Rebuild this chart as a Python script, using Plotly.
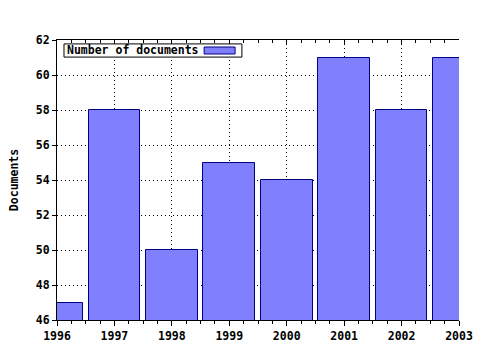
import plotly.graph_objects as go

years = [1996, 1997, 1998, 1999, 2000, 2001, 2002, 2003]
documents = [47, 58, 50, 55, 54, 61, 58, 61]
series_name = "Number of documents"
y_ticks = [46, 48, 50, 52, 54, 56, 58, 60, 62]

FONT = "DejaVu Sans Mono"
fs = 11.5

fig = go.Figure()
fig.add_trace(go.Bar(
    x=years, y=documents, width=0.9, name=series_name,
    marker=dict(color="#8080ff", line=dict(color="#000080", width=1)),
    showlegend=False,
))
# invisible trace to anchor top axis
fig.add_trace(go.Scatter(x=[years[0]], y=[documents[0]], xaxis="x2",
                         mode="markers", marker=dict(opacity=0),
                         showlegend=False, hoverinfo="skip"))

fig.update_layout(
    width=480, height=350,
    margin=dict(l=57, r=21, t=40, b=30),
    paper_bgcolor="white", plot_bgcolor="white",
    font=dict(family=FONT, size=fs, color="black"),
    bargap=0,
    xaxis=dict(
        range=[1996, 2003], tickmode="array", tickvals=years,
        ticktext=[f"<b>{y}</b>" for y in years], automargin=False,
        showline=True, linecolor="black", linewidth=1,
        ticks="outside", ticklen=5, tickcolor="black",
        showgrid=True, gridcolor="black", griddash="1px,3px", gridwidth=1,
        minor=dict(dtick=0.25, tick0=1996, ticks="outside", ticklen=3,
                   tickcolor="black", showgrid=False),
        zeroline=False,
    ),
    xaxis2=dict(
        range=[1996, 2003], overlaying="x", side="top", anchor="y",
        tickmode="array", tickvals=years, showticklabels=False, automargin=False,
        showline=True, linecolor="black", linewidth=1,
        ticks="inside", ticklen=5, tickcolor="black", showgrid=False,
        minor=dict(dtick=0.25, tick0=1996, ticks="inside", ticklen=3,
                   tickcolor="black", showgrid=False),
        zeroline=False,
    ),
    yaxis=dict(
        range=[46, 62], tickmode="array", tickvals=y_ticks,
        ticktext=[f"<b>{v}</b>" for v in y_ticks], automargin=False,
        showline=True, linecolor="black", linewidth=1,
        ticks="outside", ticklen=4, tickcolor="black",
        showgrid=True, gridcolor="black", griddash="1px,3px", gridwidth=1,
        zeroline=False,
        title=dict(text="<b>Documents</b>", standoff=14,
                   font=dict(family=FONT, size=fs)),
    ),
)

# legend box drawn as shapes + annotation
fig.add_shape(type="rect", xref="paper", yref="paper",
              x0=0.0174, x1=0.460, y0=0.939, y1=0.986,
              line=dict(color="black", width=1), fillcolor="white", layer="above")
fig.add_shape(type="rect", xref="paper", yref="paper",
              x0=0.366, x1=0.443, y0=0.950, y1=0.975,
              line=dict(color="#000080", width=1), fillcolor="#8080ff", layer="above")
fig.add_annotation(xref="paper", yref="paper", x=0.019, y=0.9625,
                   xanchor="left", yanchor="middle", showarrow=False,
                   text=f"<b>{series_name}</b>",
                   font=dict(family=FONT, size=fs, color="black"))

fig.write_html("out.html")
